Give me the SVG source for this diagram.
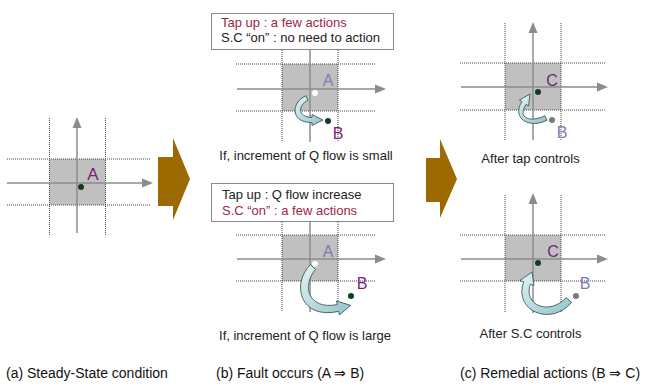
<svg xmlns="http://www.w3.org/2000/svg" width="646" height="385" viewBox="0 0 646 385">
<style>
.sq{fill:#c0c0c0;stroke:none}
.dot{stroke:#444;stroke-width:1;stroke-dasharray:1 1;fill:none}
.ax{stroke:#8c8c8c;stroke-width:1.5;fill:none}
.ah{fill:#8c8c8c}
.big{fill:#9c6a00}
.curl{fill:url(#cg);stroke:#2c4a4a;stroke-width:0.8}
.lbl{font-family:"Liberation Sans",Arial,sans-serif;font-size:16px;text-anchor:middle}
.dk{fill:#7a1e78}
.lt{fill:#7c7cb4}
.txt{font-family:"Liberation Sans",Arial,sans-serif;font-size:13px;fill:#222}
.red{fill:#a0263f}
.cap{font-family:"Liberation Sans",Arial,sans-serif;font-size:13px;fill:#222;text-anchor:middle}
.bot{font-family:"Liberation Sans",Arial,sans-serif;font-size:14px;fill:#111}
.box{fill:#fff;stroke:#8a8a8a;stroke-width:1}
</style>
<defs>
<linearGradient id="cg" x1="0" y1="0" x2="1" y2="1">
<stop offset="0" stop-color="#e4f4f4"/>
<stop offset="1" stop-color="#92c2c8"/>
</linearGradient>
</defs>

<g id="panel-a">
<rect class="sq" x="49.5" y="159" width="56" height="46"/>
<line class="dot" x1="49.5" y1="118" x2="49.5" y2="235"/>
<line class="dot" x1="105.5" y1="118" x2="105.5" y2="235"/>
<line class="dot" x1="7" y1="159" x2="150" y2="159"/>
<line class="dot" x1="7" y1="205" x2="150" y2="205"/>
<line class="ax" x1="77" y1="233" x2="77" y2="126"/>
<polygon class="ah" points="77,117 72.5,128 81.5,128"/>
<line class="ax" x1="7" y1="183" x2="143" y2="183"/>
<polygon class="ah" points="153,183 142,178.5 142,187.5"/>
<circle cx="81" cy="187" r="3" fill="#0d4020"/>
<text class="lbl dk" x="93" y="180" style="font-size:17px">A</text>
</g>

<g id="arrow-1"><polygon class="big" points="158,157 173,157 173,138 190,179 173,220 173,206 158,206"/></g>
<g id="arrow-2"><polygon class="big" points="426,158 440,158 440,139 457,179 440,218 440,202 426,202"/></g>

<g id="panel-b-small">
<rect class="sq" x="282" y="64" width="56" height="47"/>
<line class="dot" x1="282" y1="50" x2="282" y2="142"/>
<line class="dot" x1="338" y1="50" x2="338" y2="142"/>
<line class="dot" x1="236" y1="64" x2="375" y2="64"/>
<line class="dot" x1="236" y1="111" x2="375" y2="111"/>
<line class="ax" x1="310" y1="50" x2="310" y2="142"/>
<line class="ax" x1="237" y1="89" x2="376" y2="89"/>
<polygon class="ah" points="386,89 375,84.5 375,93.5"/>
<circle cx="315" cy="93" r="3" fill="#fff"/>
<circle cx="328" cy="121" r="3" fill="#0d4020"/>
<path class="curl" d="M306,95.7 C290,103 291,123 312,122.5 L312,125.5 L323,120 L312,114.5 L312,117.5 C297,117 298,105 308,100.3 Z"/>
<text class="lbl lt" x="328" y="86">A</text>
<text class="lbl dk" x="338" y="139">B</text>
<rect class="box" x="211.5" y="13.5" width="182" height="36"/>
<text class="txt red" x="221" y="26.5">Tap up : a few actions</text>
<text class="txt" x="221" y="42">S.C “on” : no need to action</text>
<text class="cap" x="306" y="160">If, increment of Q flow is small</text>
</g>

<g id="panel-b-large">
<rect class="sq" x="282" y="235" width="56" height="46"/>
<line class="dot" x1="282" y1="222" x2="282" y2="312"/>
<line class="dot" x1="338" y1="222" x2="338" y2="312"/>
<line class="dot" x1="236" y1="235" x2="375" y2="235"/>
<line class="dot" x1="236" y1="281" x2="375" y2="281"/>
<line class="ax" x1="310" y1="222" x2="310" y2="312"/>
<line class="ax" x1="237" y1="259" x2="376" y2="259"/>
<polygon class="ah" points="386,259 375,254.5 375,263.5"/>
<circle cx="315" cy="264" r="3" fill="#fff"/>
<circle cx="351" cy="296" r="3" fill="#0d4020"/>
<path class="curl" d="M310.5,264.6 C291,284 300,320 338.7,311.4 L339.5,314.9 L350.7,305.3 L336.5,301.1 L337.3,304.6 C309,310 301,287 315.5,269.4 Z"/>
<text class="lbl lt" x="328" y="257">A</text>
<text class="lbl dk" x="362" y="289">B</text>
<rect class="box" x="211.5" y="183.5" width="182" height="38"/>
<text class="txt" x="222" y="199">Tap up : Q flow increase</text>
<text class="txt red" x="222" y="214.5">S.C “on” : a few actions</text>
<text class="cap" x="305" y="340">If, increment of Q flow is large</text>
</g>

<g id="panel-c-tap">
<rect class="sq" x="505" y="63" width="56" height="47"/>
<line class="dot" x1="505" y1="23" x2="505" y2="140"/>
<line class="dot" x1="561" y1="23" x2="561" y2="140"/>
<line class="dot" x1="460" y1="63" x2="605" y2="63"/>
<line class="dot" x1="460" y1="110" x2="605" y2="110"/>
<line class="ax" x1="533" y1="140" x2="533" y2="32"/>
<polygon class="ah" points="533,22 528.5,33 537.5,33"/>
<line class="ax" x1="461" y1="87" x2="598" y2="87"/>
<polygon class="ah" points="608,87 597,82.5 597,91.5"/>
<circle cx="538" cy="92" r="3" fill="#0d4020"/>
<circle cx="552" cy="120" r="3" fill="#7a7a7a"/>
<path class="curl" d="M547.1,120.2 C530,129 511,119 521.9,101.6 L519.4,100 L530,94 L528.6,106 L526.1,104.4 C517,118 530,123 544.9,115.8 Z"/>
<text class="lbl dk" x="552" y="86">C</text>
<text class="lbl lt" x="562" y="138">B</text>
<text class="cap" x="530.5" y="163">After tap controls</text>
</g>

<g id="panel-c-sc">
<rect class="sq" x="505" y="235" width="56" height="46"/>
<line class="dot" x1="505" y1="195" x2="505" y2="313"/>
<line class="dot" x1="561" y1="195" x2="561" y2="313"/>
<line class="dot" x1="460" y1="235" x2="605" y2="235"/>
<line class="dot" x1="460" y1="281" x2="605" y2="281"/>
<line class="ax" x1="533" y1="313" x2="533" y2="203"/>
<polygon class="ah" points="533,193 528.5,204 537.5,204"/>
<line class="ax" x1="461" y1="259" x2="598" y2="259"/>
<polygon class="ah" points="608,259 597,254.5 597,263.5"/>
<circle cx="538" cy="263" r="3" fill="#0d4020"/>
<circle cx="576" cy="296" r="3" fill="#7a7a7a"/>
<path class="curl" d="M571.7,302.3 C551,327 513,311 523.7,281.8 L520,280.5 L532,272 L534,285.5 L530.3,284.2 C523,305 549,316 566.3,297.7 Z"/>
<text class="lbl dk" x="553" y="257">C</text>
<text class="lbl lt" x="585" y="289">B</text>
<text class="cap" x="530.5" y="338">After S.C controls</text>
</g>

<g id="captions">
<text class="bot" x="6" y="378">(a) Steady-State condition</text>
<text class="bot" x="216" y="378">(b) Fault occurs (A ⇒ B)</text>
<text class="bot" x="460" y="378">(c) Remedial actions (B ⇒ C)</text>
</g>
</svg>
